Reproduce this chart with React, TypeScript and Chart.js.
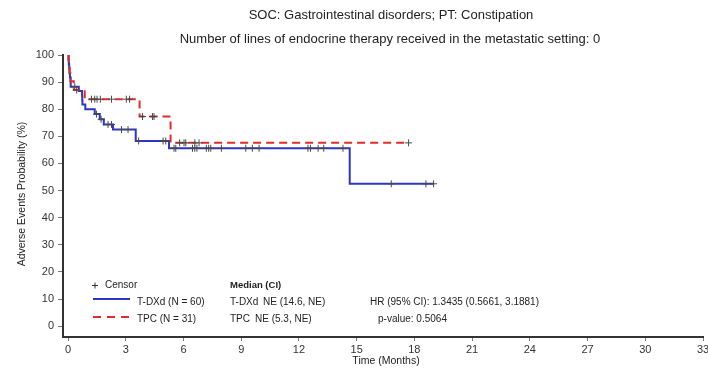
import React, { useEffect, useRef } from "react";
import { Chart, registerables } from "chart.js";

Chart.register(...registerables);

const FONT = "'Liberation Sans', Arial, Helvetica, sans-serif";

const titleLines = [
  "SOC: Gastrointestinal disorders; PT: Constipation",
  "Number of lines of endocrine therapy received in the metastatic setting: 0",
];
const yAxisTitle = "Adverse Events Probability (%)";
const xAxisTitle = "Time (Months)";

const xTicks = [0, 3, 6, 9, 12, 15, 18, 21, 24, 27, 30, 33];
const yTicks = [0, 10, 20, 30, 40, 50, 60, 70, 80, 90, 100];

// T-DXd (N = 60): Kaplan-Meier step points (time in months, probability in %)
const tdxdTime = [0, 0.02, 0.04, 0.06, 0.08, 0.1, 0.14, 0.56, 0.73, 0.74, 0.75, 0.9, 1.39, 1.65, 1.86, 2.34, 3.52, 5.25, 14.64, 19.0];
const tdxdSurv = [100, 98.3, 96.7, 95.0, 93.3, 91.7, 88.3, 86.7, 85.0, 83.3, 81.7, 80.0, 78.2, 76.3, 74.4, 72.5, 68.3, 65.6, 52.5, 52.5];
const tdxdCensor = [0.35, 1.48, 1.72, 2.08, 2.26, 2.78, 3.12, 3.67, 4.94, 5.08, 5.51, 5.6, 6.47, 6.59, 6.7, 7.19, 7.31, 7.42, 7.97, 9.24, 9.58, 9.93, 12.47, 12.6, 13.0, 13.29, 14.29, 16.8, 18.6, 19.0];

// TPC (N = 31)
const tpcTime = [0, 0.04, 0.08, 0.12, 0.3, 0.87, 3.72, 5.33, 17.7];
const tpcSurv = [100, 96.8, 93.5, 90.3, 87.1, 83.7, 77.3, 67.6, 67.6];
const tpcCensor = [0.45, 1.22, 1.39, 1.51, 1.68, 2.26, 3.03, 3.2, 3.87, 4.39, 4.47, 5.8, 6.03, 6.12, 6.59, 6.81, 17.7];

const groupLabels = ["T-DXd (N = 60)", "TPC (N = 31)"];
const medianHeader = "Median (CI)";
const medianArms = ["T-DXd", "TPC"];
const medianValues = ["NE (14.6, NE)", "NE (5.3, NE)"];
const hrText = "HR (95% CI): 1.3435 (0.5661, 3.1881)";
const pText = "p-value: 0.5064";

const BLUE = "#2b36c4";
const RED = "#e42a2a";
const CENSOR = "#4a4a4a";
const TEXT = "#222222";

function stepPoints(times: number[], surv: number[]) {
  return times.map((t, i) => ({ x: t, y: surv[i] }));
}

function levelAt(times: number[], surv: number[], t: number) {
  let v = surv[0];
  for (let i = 0; i < times.length; i++) {
    if (times[i] <= t) v = surv[i];
  }
  return v;
}

function censorPoints(times: number[], surv: number[], cens: number[]) {
  return cens.map((t) => ({ x: t, y: levelAt(times, surv, t) }));
}

const textPlugin = {
  id: "kmAnnotations",
  afterDraw(chart: any) {
    const ctx = chart.ctx as CanvasRenderingContext2D;
    ctx.save();
    ctx.fillStyle = TEXT;
    ctx.textBaseline = "middle";

    // titles
    ctx.textAlign = "center";
    ctx.font = `13px ${FONT}`;
    ctx.fillText(titleLines[0], 391, 15);
    ctx.fillText(titleLines[1], 390, 39);

    // axis titles
    ctx.font = `10.5px ${FONT}`;
    ctx.fillText(xAxisTitle, 386, 361);
    ctx.save();
    ctx.translate(22, 194);
    ctx.rotate(-Math.PI / 2);
    ctx.fillText(yAxisTitle, 0, 0);
    ctx.restore();

    // legend
    ctx.textAlign = "left";
    ctx.font = `10px ${FONT}`;
    ctx.strokeStyle = "#333";
    ctx.lineWidth = 1;
    ctx.beginPath();
    ctx.moveTo(92, 285.5);
    ctx.lineTo(98, 285.5);
    ctx.moveTo(95, 282.5);
    ctx.lineTo(95, 288.5);
    ctx.stroke();
    ctx.fillText("Censor", 105, 285);

    ctx.lineWidth = 2;
    ctx.strokeStyle = BLUE;
    ctx.beginPath();
    ctx.moveTo(93, 299);
    ctx.lineTo(130, 299);
    ctx.stroke();
    ctx.strokeStyle = RED;
    ctx.setLineDash([8, 6]);
    ctx.beginPath();
    ctx.moveTo(93, 317);
    ctx.lineTo(131, 317);
    ctx.stroke();
    ctx.setLineDash([]);
    ctx.fillText(groupLabels[0], 137, 302);
    ctx.fillText(groupLabels[1], 137, 319);

    // median / HR block
    ctx.font = `bold 9.5px ${FONT}`;
    ctx.fillText(medianHeader, 230, 285);
    ctx.font = `10px ${FONT}`;
    ctx.fillText(medianArms[0], 230, 302);
    ctx.fillText(medianValues[0], 263, 302);
    ctx.fillText(medianArms[1], 230, 319);
    ctx.fillText(medianValues[1], 255, 319);
    ctx.fillText(hrText, 370, 302);
    ctx.fillText(pText, 378, 319);
    ctx.restore();
  },
};

export default function App() {
  const canvasRef = useRef<HTMLCanvasElement | null>(null);

  useEffect(() => {
    if (!canvasRef.current) return;
    const tickFont = { family: FONT, size: 11 };
    const chart = new Chart(canvasRef.current, {
      type: "line",
      data: {
        datasets: [
          {
            label: "T-DXd censor",
            data: censorPoints(tdxdTime, tdxdSurv, tdxdCensor),
            showLine: false,
            pointStyle: "cross",
            pointRadius: 3.5,
            pointBorderWidth: 1,
            pointBorderColor: CENSOR,
            borderColor: CENSOR,
          },
          {
            label: "TPC censor",
            data: censorPoints(tpcTime, tpcSurv, tpcCensor),
            showLine: false,
            pointStyle: "cross",
            pointRadius: 3.5,
            pointBorderWidth: 1,
            pointBorderColor: CENSOR,
            borderColor: CENSOR,
          },
          {
            label: "TPC",
            data: stepPoints(tpcTime, tpcSurv),
            stepped: true,
            borderColor: RED,
            borderWidth: 2,
            borderDash: [8, 5],
            pointRadius: 0,
            fill: false,
          },
          {
            label: "T-DXd",
            data: stepPoints(tdxdTime, tdxdSurv),
            stepped: true,
            borderColor: BLUE,
            borderWidth: 2,
            pointRadius: 0,
            fill: false,
          },
        ],
      },
      options: {
        animation: false,
        responsive: false,
        devicePixelRatio: 1,
        layout: { padding: { top: 55, right: 5, left: 0, bottom: 0 } },
        plugins: {
          legend: { display: false },
          title: { display: false },
          tooltip: { enabled: false },
        },
        scales: {
          x: {
            type: "linear",
            min: -0.26,
            max: 33,
            afterBuildTicks: (scale: any) => {
              scale.ticks = xTicks.map((v) => ({ value: v }));
            },
            afterFit: (scale: any) => {
              scale.height = 33;
              scale.paddingLeft = 0;
              scale.paddingRight = 0;
            },
            ticks: {
              font: tickFont,
              color: "#333",
              padding: 2,
              maxRotation: 0,
              autoSkip: false,
            },
            grid: {
              drawOnChartArea: false,
              drawTicks: true,
              tickLength: 4,
              color: "#777",
            },
            border: { display: true, color: "#333", width: 2 },
          },
          y: {
            type: "linear",
            min: -4,
            max: 100,
            afterBuildTicks: (scale: any) => {
              scale.ticks = yTicks.map((v) => ({ value: v }));
            },
            afterFit: (scale: any) => {
              scale.width = 63;
              scale.paddingTop = 0;
              scale.paddingBottom = 0;
            },
            ticks: {
              font: tickFont,
              color: "#333",
              padding: 4,
            },
            grid: {
              drawOnChartArea: false,
              drawTicks: true,
              tickLength: 5,
              color: "#777",
            },
            border: { display: true, color: "#333", width: 2 },
          },
        },
      },
      plugins: [textPlugin],
    });
    return () => chart.destroy();
  }, []);

  return (
    <div style={{ position: "fixed", left: 0, top: 0, width: 708, height: 370, background: "#fff" }}>
      <canvas ref={canvasRef} width={708} height={370} />
    </div>
  );
}
